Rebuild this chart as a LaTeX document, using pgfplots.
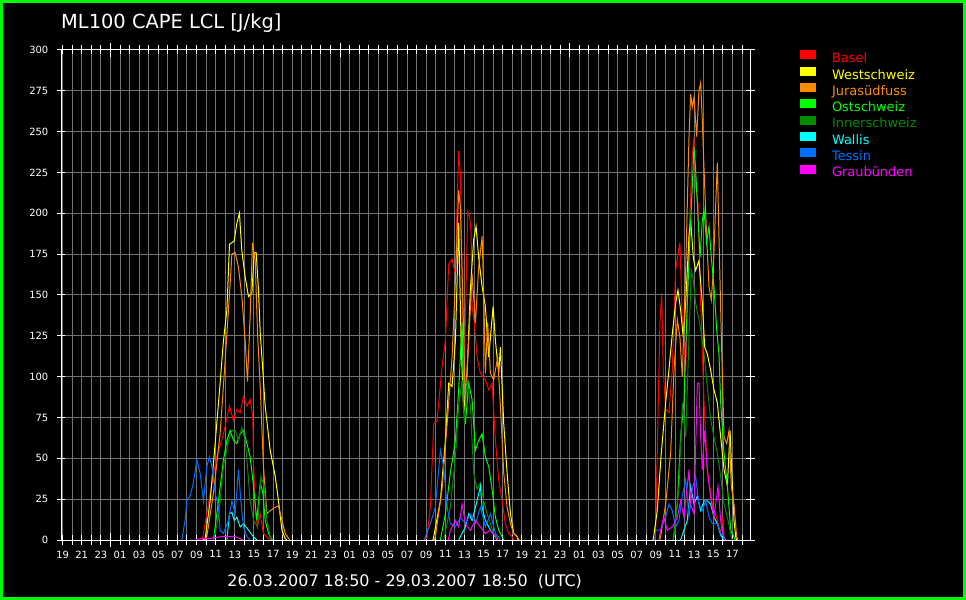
\documentclass[border=0pt]{standalone}
\usepackage{fontspec}
\setmainfont{DejaVu Sans}
\usepackage{pgfplots}
\pgfplotsset{compat=1.18}
\definecolor{cBasel}{RGB}{255,0,0}
\definecolor{cWest}{RGB}{255,255,0}
\definecolor{cJura}{RGB}{255,140,0}
\definecolor{cOst}{RGB}{0,255,0}
\definecolor{cInner}{RGB}{0,140,0}
\definecolor{cWallis}{RGB}{0,255,255}
\definecolor{cTessin}{RGB}{0,110,255}
\definecolor{cGrau}{RGB}{255,0,255}
\definecolor{cGrid}{RGB}{115,115,115}
\definecolor{cFrame}{RGB}{0,255,0}
\begin{document}
\begin{tikzpicture}
\useasboundingbox (0,0) rectangle (966bp,600bp);
\fill[black] (0,0) rectangle (966bp,600bp);
\draw[cFrame, line width=3bp] (1.5bp,1.5bp) rectangle (964.5bp,598.5bp);
\begin{axis}[
  at={(61bp,60bp)}, anchor=south west, scale only axis,
  width=689bp, height=490bp,
  xmin=18.8333, xmax=90.8333, ymin=0, ymax=300,
  axis line style={white, line width=1bp},
  ytick={0,25,...,300},
  xtick={19,21,...,89},
  xticklabels={19,21,23,01,03,05,07,09,11,13,15,17,19,21,23,01,03,05,07,09,11,13,15,17,19,21,23,01,03,05,07,09,11,13,15,17},
  minor xtick={20,22,...,90},
  extra x ticks={24,48,72}, extra x tick labels={},
  extra x tick style={major tick length=14bp, grid=none},
  grid=both,
  major grid style={cGrid, line width=1bp},
  minor grid style={cGrid, line width=1bp},
  tick style={white, line width=1bp},
  major tick length=9bp, minor tick length=9bp, tick align=center,
  ticklabel style={text=white, font=\fontsize{10}{12}\selectfont},
  /pgf/number format/assume math mode=true,
  yticklabel style={anchor=east, inner sep=0pt, xshift=-8bp},
  xticklabel style={anchor=north, inner sep=0pt, yshift=-6bp},
  unbounded coords=jump,
  every axis plot/.append style={line width=1bp, sharp plot, mark=none},
  legend style={at={(1.0726,0.9990)}, anchor=north west, draw=none, fill=none,
    inner sep=0pt, outer sep=0pt, font=\fontsize{13}{16}\selectfont,
    nodes={inner sep=0pt, text height=9.6bp, text depth=4bp, anchor=west},
    /tikz/every odd column/.append style={column sep=16bp}, row sep=0pt},
  legend cell align=left,
  legend image code/.code={\fill[#1] (0bp,1bp) rectangle (15bp,9bp);},
]
\addplot[cBasel] coordinates {
(33.60,0) (33.72,4) (34.40,28) (35.12,51) (35.81,65) (36.44,82) (36.86,73) (37.21,80) (37.56,78) (37.90,88) (38.26,82) (38.60,86) (38.88,75) (38.95,49) (39.13,18) (39.37,8) (39.65,16) (39.99,4) (40.35,2) (40.69,0)
(45,nan)
(56.90,0) (57.08,2) (57.43,20) (57.78,71) (58.13,73) (58.65,106) (59.00,122) (59.35,169) (59.70,172) (59.87,167) (60.05,163) (60.22,204) (60.39,238) (60.57,224) (60.75,163) (60.91,102) (61.09,133) (61.33,201) (61.54,198) (61.69,188) (61.79,143) (62.03,133) (62.31,112) (62.66,102) (63.18,98) (63.53,92) (63.88,96) (64.23,61) (64.57,37) (64.93,24) (65.27,10) (65.62,4) (65.98,2) (66.10,0)
(70,nan)
(80.90,0) (80.97,4) (81.14,53) (81.42,133) (81.60,151) (81.77,104) (82.02,80) (82.36,78) (82.71,104) (83.06,165) (83.31,175) (83.51,182) (83.76,135) (84.11,104) (84.46,186) (84.80,235) (84.98,247) (85.15,216) (85.40,206) (85.68,145) (86.03,84) (86.37,43) (86.90,22) (87.42,12) (87.77,4) (88.00,14) (88.12,2) (88.30,0)
};
\addlegendentry{\textcolor{cBasel}{Basel}}
\addplot[cWest] coordinates {
(33.70,0) (33.90,1) (34.42,24) (34.94,59) (35.46,96) (35.81,122) (36.17,141) (36.44,181) (36.93,183) (37.21,194) (37.48,200) (37.73,177) (38.08,161) (38.43,149) (38.78,151) (39.02,176) (39.23,176) (39.47,153) (39.65,127) (39.83,112) (40.17,82) (40.69,55) (41.22,39) (41.56,24) (41.92,6) (42.26,1) (42.40,0)
(50,nan)
(57.70,0) (57.78,2) (58.48,24) (59.00,61) (59.35,96) (59.70,94) (60.05,122) (60.39,194) (60.64,122) (60.91,78) (61.27,102) (61.61,153) (61.96,184) (62.21,192) (62.48,173) (62.84,155) (63.18,143) (63.53,112) (63.99,143) (64.23,122) (64.57,102) (64.75,118) (65.10,71) (65.45,41) (65.80,16) (66.14,4) (66.50,2) (66.60,0)
(75,nan)
(80.70,0) (80.79,3) (81.14,18) (81.56,53) (82.02,84) (82.36,104) (82.71,126) (83.06,145) (83.31,153) (83.58,141) (83.86,124) (84.11,145) (84.46,186) (84.63,196) (84.91,173) (85.15,165) (85.50,171) (85.85,145) (86.10,118) (86.37,114) (86.72,104) (87.07,92) (87.42,84) (87.77,63) (88.12,43) (88.47,33) (88.75,67) (88.92,43) (89.16,12) (89.34,2) (89.45,0)
};
\addlegendentry{\textcolor{cWest}{Westschweiz}}
\addplot[cJura] coordinates {
(33.90,0) (34.07,2) (34.77,29) (35.46,65) (35.99,110) (36.51,157) (36.69,175) (37.03,176) (37.38,167) (37.73,149) (38.08,122) (38.32,97) (38.60,137) (38.84,182) (39.13,171) (39.37,127) (39.65,94) (39.99,45) (40.35,16) (40.69,18) (41.22,20) (41.56,21) (41.92,12) (42.26,4) (42.61,1) (42.75,0)
(50,nan)
(57.85,0) (57.95,2) (58.65,31) (59.18,71) (59.70,112) (60.05,159) (60.39,214) (60.57,204) (60.75,163) (61.09,86) (61.44,122) (61.79,163) (62.14,133) (62.48,167) (62.84,186) (63.00,153) (63.18,102) (63.42,133) (63.71,102) (64.05,98) (64.47,112) (64.75,82) (65.10,41) (65.45,20) (65.80,10) (66.14,4) (66.50,2) (66.70,0)
(75,nan)
(81.40,0) (81.49,2) (82.02,22) (82.54,53) (82.89,104) (83.24,135) (83.51,124) (83.76,100) (84.11,165) (84.46,247) (84.63,273) (84.80,265) (84.98,271) (85.26,247) (85.50,275) (85.68,280) (85.85,257) (86.03,227) (86.30,186) (86.55,155) (86.79,147) (87.00,165) (87.25,206) (87.42,231) (87.59,186) (87.84,124) (88.12,63) (88.40,59) (88.64,67) (88.88,33) (89.16,22) (89.44,2) (89.55,0)
};
\addlegendentry{\textcolor{cJura}{Jurasüdfuss}}
\addplot[cOst] coordinates {
(34.77,0) (35.29,24) (35.81,49) (36.17,61) (36.51,67) (36.86,61) (37.21,59) (37.56,65) (37.90,67) (38.18,61) (38.60,51) (38.95,33) (39.30,12) (39.65,35) (39.93,29) (40.17,12) (40.52,4) (40.87,0)
(50,nan)
(58.48,0) (59.00,16) (59.52,41) (60.05,61) (60.39,92) (60.75,133) (60.91,82) (61.09,71) (61.44,96) (61.79,86) (62.14,55) (62.48,61) (62.84,65) (63.18,51) (63.53,45) (63.88,31) (64.23,14) (64.57,6) (64.93,2) (65.10,0)
(75,nan)
(82.80,0) (82.89,4) (83.24,22) (83.58,63) (83.93,84) (84.28,145) (84.56,186) (84.80,216) (84.98,241) (85.15,227) (85.33,206) (85.61,173) (85.85,196) (86.03,202) (86.30,182) (86.55,192) (86.79,173) (87.07,155) (87.35,129) (87.59,114) (87.77,84) (88.12,53) (88.47,33) (88.82,6) (89.16,2) (89.30,0)
};
\addlegendentry{\textcolor{cOst}{Ostschweiz}}
\addplot[cInner] coordinates {
(34.77,0) (35.29,14) (35.81,45) (36.33,61) (36.69,67) (37.03,67) (37.38,61) (37.73,69) (38.08,61) (38.32,45) (38.60,24) (38.95,12) (39.37,8) (39.72,39) (40.07,33) (40.35,12) (40.69,2) (40.97,0)
(50,nan)
(58.82,0) (59.52,20) (60.05,51) (60.39,82) (60.75,98) (60.99,71) (61.27,98) (61.61,82) (61.96,41) (62.31,31) (62.66,35) (63.00,24) (63.36,16) (63.71,10) (64.05,4) (64.41,2) (64.50,0)
(75,nan)
(82.80,0) (82.89,2) (83.41,33) (83.76,84) (84.11,63) (84.46,124) (84.70,165) (84.91,159) (85.15,145) (85.50,135) (85.68,129) (86.03,114) (86.37,94) (86.72,74) (87.07,63) (87.42,53) (87.77,39) (88.12,22) (88.54,12) (88.88,2) (89.00,0)
};
\addlegendentry{\textcolor{cInner}{Innerschweiz}}
\addplot[cWallis] coordinates {
(36.17,0) (36.44,16) (36.69,17) (36.93,12) (37.21,14) (37.56,8) (37.90,10) (38.43,6) (38.95,2) (39.30,0)
(50,nan)
(60.40,0) (60.57,2) (61.09,8) (61.44,16) (61.79,12) (62.14,20) (62.31,24) (62.66,33) (62.84,20) (63.18,12) (63.71,6) (64.23,2) (64.40,0)
(75,nan)
(83.58,0) (84.28,12) (84.63,33) (84.98,22) (85.33,27) (85.68,18) (86.03,24) (86.37,24) (86.72,22) (87.07,14) (87.42,10) (87.77,3) (88.12,0)
};
\addlegendentry{\textcolor{cWallis}{Wallis}}
\addplot[cTessin] coordinates {
(31.46,0) (31.80,12) (31.98,24) (32.33,27) (32.67,35) (33.03,49) (33.37,41) (33.72,24) (34.07,45) (34.35,51) (34.60,45) (34.94,29) (35.29,20) (35.46,6) (35.81,4) (36.33,12) (36.69,24) (37.03,16) (37.38,43) (37.63,24) (37.90,8) (38.26,2) (38.60,0)
(50,nan)
(56.80,0) (56.91,2) (57.43,10) (57.95,20) (58.48,55) (58.82,45) (59.18,20) (59.52,10) (60.05,8) (60.57,14) (61.09,10) (61.61,16) (62.14,10) (62.66,20) (63.18,8) (63.71,16) (64.23,4) (64.57,2) (64.70,0)
(75,nan)
(80.90,0) (80.97,6) (81.49,6) (82.02,14) (82.36,22) (82.71,18) (83.06,8) (83.41,12) (83.76,27) (84.11,37) (84.46,14) (84.80,31) (85.15,39) (85.50,22) (85.85,18) (86.20,24) (86.55,14) (86.90,10) (87.42,10) (87.77,4) (88.12,2) (88.30,0)
};
\addlegendentry{\textcolor{cTessin}{Tessin}}
\addplot[cGrau] coordinates {
(32.90,0) (33.50,1) (34.50,1) (35.50,2) (36.50,2) (37.00,2) (37.50,1) (37.80,0)
(50,nan)
(59.30,0) (59.52,6) (60.05,12) (60.39,8) (60.75,22) (61.09,10) (61.61,6) (62.14,12) (62.66,8) (63.18,4) (63.71,6) (64.23,2) (64.40,0)
(75,nan)
(81.32,0) (81.49,6) (81.84,14) (82.19,6) (82.71,8) (83.24,14) (83.58,24) (83.93,14) (84.46,43) (84.63,22) (84.98,16) (85.33,96) (85.50,96) (85.68,63) (85.85,43) (86.10,67) (86.37,43) (86.72,26) (87.07,14) (87.49,33) (87.77,12) (88.12,0)
};
\addlegendentry{\textcolor{cGrau}{Graubünden}}
\end{axis}
\node[anchor=base west, inner sep=0pt, text=white, font=\fontsize{19.5}{22}\selectfont] at (61bp,571.5bp) {ML100 CAPE LCL [J/kg]};
\node[anchor=base, inner sep=0pt, text=white, font=\fontsize{16}{19}\selectfont] at (404.7bp,14bp) {26.03.2007 18:50 - 29.03.2007 18:50\ \ (UTC)};
\end{tikzpicture}
\end{document}
